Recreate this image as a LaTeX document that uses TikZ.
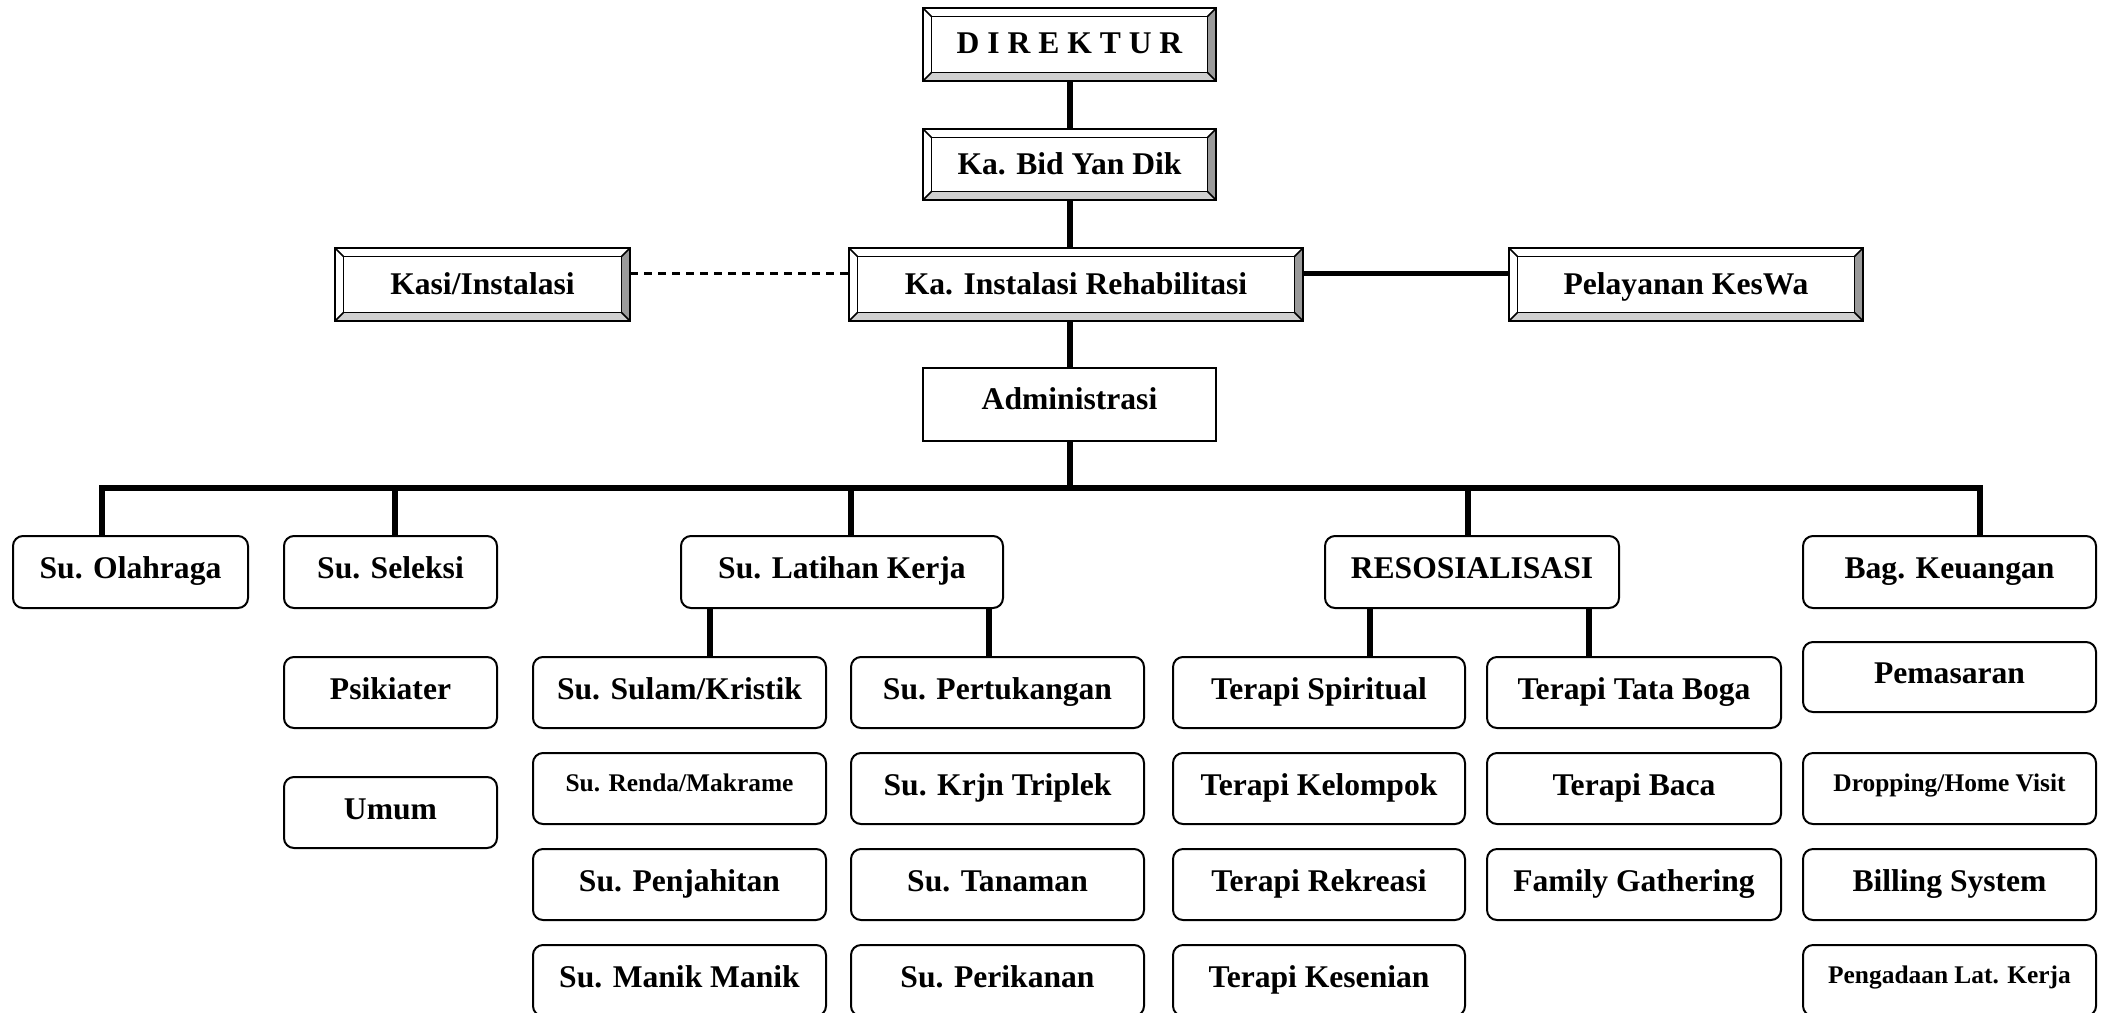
\documentclass[tikz,border=0pt]{standalone}
\usepackage{fontspec}
\setmainfont{Liberation Serif}
\newcommand\fbig{\fontsize{15.8}{19}\selectfont\bfseries}
\newcommand\fsmall{\fontsize{12.7}{15}\selectfont\bfseries}
\definecolor{bevR}{HTML}{9A9A9A}
\definecolor{bevB}{HTML}{D0D0D0}
\tikzset{
  area/.style n args={4}{at={({(#1+#3)/2},{(#2+#4)/2})},
    minimum width={(#3-#1)*0.5pt}, minimum height={(#4-#2)*0.5pt}},
  rbox/.style={draw, line width=1pt, rounded corners=5pt, inner sep=0pt, fill=white,
    font=\fbig, text height=11pt, text depth=4.5pt},
  rsmall/.style={rbox, font=\fsmall, text height=9pt, text depth=6pt},
  pbox/.style={draw, line width=1pt, inner sep=0pt, fill=white,
    font=\fbig, text height=11pt, text depth=6.5pt},
  bevbox/.style={inner sep=0pt, fill=white, font=\fbig, text height=11pt, text depth=1.5pt},
  conn/.style={line width=3pt, line join=miter},
}
\newcommand\bevelize[1]{%
  \fill[bevR] (#1.north east) -- (#1.south east) -- ([shift={(-9,-9)}]#1.south east) -- ([shift={(-9,9)}]#1.north east) -- cycle;
  \fill[bevB] (#1.south west) -- (#1.south east) -- ([shift={(-9,-9)}]#1.south east) -- ([shift={(9,-9)}]#1.south west) -- cycle;
  \draw[line width=.8pt] ([shift={(9,9)}]#1.north west) rectangle ([shift={(-9,-9)}]#1.south east);
  \draw[line width=.8pt] (#1.north west) -- ++(9,9) (#1.north east) -- ++(-9,9)
     (#1.south west) -- ++(9,-9) (#1.south east) -- ++(-9,-9);
  \draw[line width=1pt] (#1.north west) rectangle (#1.south east);
}
\begin{document}
\begin{tikzpicture}[x=0.5pt,y=-0.5pt]
\useasboundingbox (0,0) rectangle (2107,1012);
\clip (0,0) rectangle (2107,1012);
\fill[white] (0,0) rectangle (2107,1012);

% bevel boxes
\node[bevbox, area={923}{8}{1216}{81}] (dir) {D I R E K T U R};
\node[bevbox, area={923}{129}{1216}{200}] (bid) {Ka. Bid Yan Dik};
\node[bevbox, area={335}{248}{630}{321}] (kasi) {Kasi/Instalasi};
\node[bevbox, area={849}{248}{1303}{321}] (kainst) {Ka. Instalasi Rehabilitasi};
\node[bevbox, area={1509}{248}{1863}{321}] (kesw) {Pelayanan KesWa};
\bevelize{dir}\bevelize{bid}\bevelize{kasi}\bevelize{kainst}\bevelize{kesw}

\node[pbox, area={923}{368}{1216}{441}] (adm) {Administrasi};

% row 1
\node[rbox, area={13}{536}{248}{608}] (ola) {Su. Olahraga};
\node[rbox, area={284}{536}{497}{608}] (sel) {Su. Seleksi};
\node[rbox, area={681}{536}{1003}{608}] (lat) {Su. Latihan Kerja};
\node[rbox, area={1325}{536}{1619}{608}] (res) {RESOSIALISASI};
\node[rbox, area={1803}{536}{2096}{608}] (keu) {Bag. Keuangan};
% row 2
\node[rbox, area={284}{657}{497}{728}] (psi) {Psikiater};
\node[rbox, area={533}{657}{826}{728}] (sul) {Su. Sulam/Kristik};
\node[rbox, area={851}{657}{1144}{728}] (per) {Su. Pertukangan};
\node[rbox, area={1173}{657}{1465}{728}] (spi) {Terapi Spiritual};
\node[rbox, area={1487}{657}{1781}{728}] (tbo) {Terapi Tata Boga};
\node[rbox, area={1803}{642}{2096}{712}] (pem) {Pemasaran};
% row 3
\node[rbox, area={284}{777}{497}{848}] (umu) {Umum};
\node[rsmall, area={533}{753}{826}{824}] (ren) {Su. Renda/Makrame};
\node[rbox, area={851}{753}{1144}{824}] (kri) {Su. Krjn Triplek};
\node[rbox, area={1173}{753}{1465}{824}] (kel) {Terapi Kelompok};
\node[rbox, area={1487}{753}{1781}{824}] (bac) {Terapi Baca};
\node[rsmall, area={1803}{753}{2096}{824}] (dro) {Dropping/Home Visit};
% row 4
\node[rbox, area={533}{849}{826}{920}] (pen) {Su. Penjahitan};
\node[rbox, area={851}{849}{1144}{920}] (tan) {Su. Tanaman};
\node[rbox, area={1173}{849}{1465}{920}] (rek) {Terapi Rekreasi};
\node[rbox, area={1487}{849}{1781}{920}] (fam) {Family Gathering};
\node[rbox, area={1803}{849}{2096}{920}] (bil) {Billing System};
% row 5
\node[rbox, area={533}{945}{826}{1016}] (man) {Su. Manik Manik};
\node[rbox, area={851}{945}{1144}{1016}] (ikn) {Su. Perikanan};
\node[rbox, area={1173}{945}{1465}{1016}] (kes) {Terapi Kesenian};
\node[rsmall, area={1803}{945}{2096}{1016}] (pgd) {Pengadaan Lat. Kerja};

% helper coordinates
\coordinate (hl) at (0,273);
\coordinate (bus) at (0,488);
\coordinate (dOl) at (102,488);
\coordinate (dSe) at (395,488);
\coordinate (dLa) at (851,488);
\coordinate (dRe) at (1468,488);
\coordinate (dKe) at (1980,488);
\coordinate (sL1) at (710,0);
\coordinate (sL2) at (989,0);
\coordinate (sR1) at (1370,0);
\coordinate (sR2) at (1589,0);

% connectors
\draw[conn] (dir.south) -- (bid.north);
\draw[conn] (bid.south) -- (bid.south |- kainst.north);
\draw[conn] (kainst.south -| bid.south) -- (adm.north);
\draw[conn] (adm.south) -- (adm.south |- bus);
\draw[conn] (dOl |- ola.north) -- (dOl) -- (dKe) -- (dKe |- keu.north);
\draw[conn] (dSe) -- (dSe |- sel.north);
\draw[conn] (dLa) -- (dLa |- lat.north);
\draw[conn] (dRe) -- (dRe |- res.north);
\draw[conn] (lat.south -| sL1) -- (sul.north -| sL1);
\draw[conn] (lat.south -| sL2) -- (per.north -| sL2);
\draw[conn] (res.south -| sR1) -- (spi.north -| sR1);
\draw[conn] (res.south -| sR2) -- (tbo.north -| sR2);
\draw[line width=2.5pt] (kainst.east |- hl) -- (kesw.west |- hl);
\draw[line width=1.5pt, dash pattern=on 4pt off 3pt] (kasi.east |- hl) -- (kainst.west |- hl);
\end{tikzpicture}
\end{document}
